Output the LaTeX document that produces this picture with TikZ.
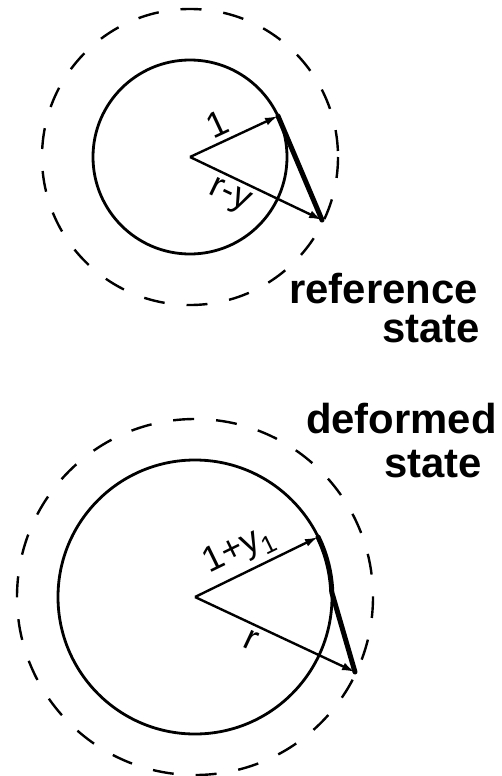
\documentclass[tikz,border=0pt]{standalone}
\usepackage{fontspec}
\setmainfont{Liberation Sans}
\usetikzlibrary{arrows.meta}
\tikzset{
  ring/.style={line width=2.8bp},
  guide/.style={line width=2.4bp, dash pattern=on 21bp off 22bp},
  radius arrow/.style={line width=2.4bp, -{Latex[length=13bp,width=8bp]}},
  stretch/.style={line width=5bp, line cap=round, line join=round},
  caption/.style={font=\bfseries\fontsize{42}{46}\selectfont, inner sep=0pt},
  vlabel/.style={font=\fontsize{36}{40}\selectfont, inner sep=5bp, sloped}
}
\begin{document}
\begin{tikzpicture}[x=1bp, y=-1bp]
% picture frame, pixel units with y pointing down
\useasboundingbox (0,0) rectangle (502,776);
% Reference state
\coordinate (c1) at (190,157);
\coordinate (t1) at (278,116);
\coordinate (t2) at (322,220);
\draw[ring] (c1) circle[radius=97];
\draw[guide] (c1) circle[radius=148];
\draw[radius arrow] (c1) -- node[vlabel, pos=0.4, above] {1} (t1);
\draw[radius arrow] (c1) -- node[vlabel, pos=0.36, below] {r-y} (t2);
\draw[stretch] (t1) -- (t2);
\node[caption, anchor=base east] (refA) at (478,303) {reference};
\node[caption, anchor=base east] (refB) at (480,342) {state};
% Deformed state
\coordinate (c2) at (195,597);
\coordinate (t3) at (318,537);
\coordinate (t4) at (355,672);
\draw[ring] (c2) circle[radius=137];
\draw[guide] (c2) circle[radius=178];
\draw[radius arrow] (c2) -- node[vlabel, pos=0.44, above] {1+y\textsubscript{1}} (t3);
\draw[radius arrow] (c2) -- node[vlabel, pos=0.39, below] {r} (t4);
\draw[stretch] (t3) arc[start angle=-26, end angle=-2, radius=137] -- (t4);
\node[caption, anchor=base east] (defA) at (497,433) {deformed};
\node[caption, anchor=base east] (defB) at (482,477) {state};
\end{tikzpicture}
\end{document}
